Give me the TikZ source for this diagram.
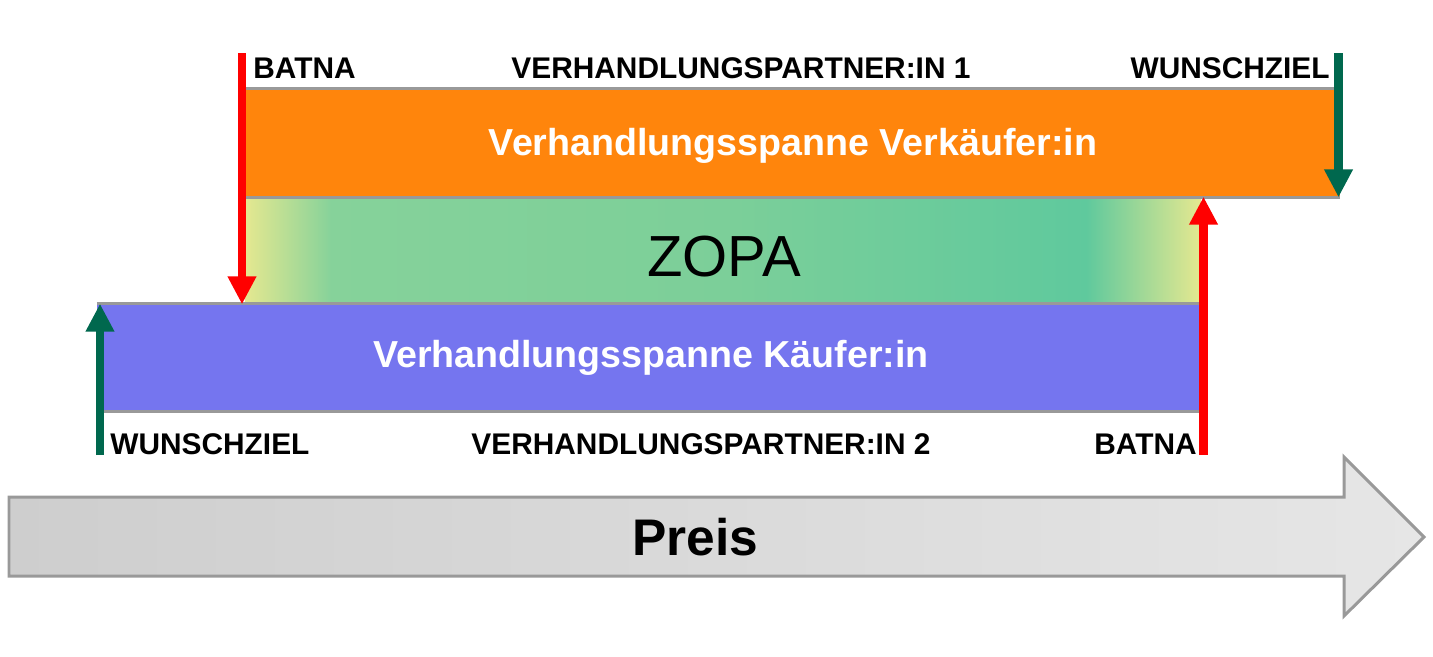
\documentclass[tikz,border=0pt]{standalone}
\usepackage{fontspec}
\setmainfont{Liberation Sans}
\usepackage{xcolor}
\usetikzlibrary{arrows.meta,positioning}

\definecolor{seller}{HTML}{FF850C}
\definecolor{buyer}{HTML}{7575EF}
\definecolor{rimgray}{HTML}{999999}
\definecolor{batnared}{HTML}{FF0000}
\definecolor{goalgreen}{HTML}{00684E}
\definecolor{zopaY}{HTML}{E5E890}
\definecolor{zopaL}{HTML}{86D29A}
\definecolor{zopaM}{HTML}{7CCF99}
\definecolor{zopaR}{HTML}{5FC99D}
\definecolor{priceL}{HTML}{CECECE}
\definecolor{priceR}{HTML}{E6E6E6}

\pgfdeclarehorizontalshading{zopashade}{100bp}{color(0bp)=(zopaY); color(25bp)=(zopaY); color(29.5bp)=(zopaL); color(50bp)=(zopaM); color(69bp)=(zopaR); color(75bp)=(zopaY); color(100bp)=(zopaY)}
\pgfdeclarehorizontalshading{priceshade}{100bp}{color(0bp)=(priceL); color(25bp)=(priceL); color(75bp)=(priceR); color(100bp)=(priceR)}

\begin{document}
\begin{tikzpicture}[x=0.02cm,y=-0.02cm,
    lbl/.style={font=\fontsize{17}{19}\selectfont\bfseries, inner sep=0pt},
    bar/.style={inner sep=0pt, font=\fontsize{21.4}{24}\selectfont\bfseries, text=white},
    rim/.style={draw=rimgray, line width=0.07cm},
    pointer/.style={line width=0.17cm, -{Triangle[width=0.54cm,length=0.56cm]}}]
    \useasboundingbox (0,0) rectangle (1433,656);

    % Verhandlungsspannen
    \node[bar, fill=seller, minimum width=21.9cm, minimum height=2.16cm] (seller) at (792.5,143) {};
    \node[bar, fill=seller] (sellerLabel) at (793,146) {Verhandlungsspanne Verkäufer:in};
    \node[inner sep=0pt, shading=zopashade, minimum width=19.12cm, minimum height=2.14cm] (zopa) at (723,250.5) {};
    \node[inner sep=0pt, font=\fontsize{33}{36}\selectfont] (zopaLabel) at (724,257) {ZOPA};
    \node[bar, fill=buyer, minimum width=22.08cm, minimum height=2.14cm] (buyer) at (649,357.5) {};
    \node[bar, fill=buyer] (buyerLabel) at (651,358) {Verhandlungsspanne Käufer:in};

    % Graue Kanten
    \draw[rim] (seller.north west) -- (seller.north east);
    \draw[rim] (seller.south west) -- (seller.south east);
    \draw[rim] (buyer.north west) -- (buyer.north east);
    \draw[rim] (buyer.south west) -- (buyer.south east);

    % Beschriftungen
    \node[lbl, anchor=base west] (batnaTop) at (253,78) {BATNA};
    \node[lbl, anchor=base] (partnerA) at (741,78) {VERHANDLUNGSPARTNER:IN 1};
    \node[lbl, anchor=base east] (goalTop) at (1330,78) {WUNSCHZIEL};
    \node[lbl, anchor=base west] (goalBottom) at (110,454) {WUNSCHZIEL};
    \node[lbl, anchor=base] (partnerB) at (701,454) {VERHANDLUNGSPARTNER:IN 2};
    \node[lbl, anchor=base east] (batnaBottom) at (1197,454) {BATNA};

    % Pfeile
    \coordinate (batnaTopTail) at (242,53);
    \coordinate (goalTopTail) at (1338.5,53);
    \coordinate (batnaBotTail) at (1203.5,455);
    \coordinate (goalBotTail) at (100,455);
    \draw[pointer, batnared] (batnaTopTail) -- (batnaTopTail |- zopa.south);
    \draw[pointer, goalgreen] (goalTopTail) -- (goalTopTail |- seller.south);
    \draw[pointer, batnared] (batnaBotTail) -- (batnaBotTail |- zopa.north);
    \draw[pointer, goalgreen] (goalBotTail) -- (goalBotTail |- buyer.north);

    % Preisachse
    \shadedraw[shading=priceshade, draw=rimgray, line width=0.06cm]
        (9,497) -- (1344,497) -- (1344,457) -- (1424,537) -- (1344,616) -- (1344,576) -- (9,576) -- cycle;
    \node[inner sep=0pt, anchor=base, font=\fontsize{29.3}{32}\selectfont\bfseries] (price) at (695,555) {Preis};
\end{tikzpicture}
\end{document}
